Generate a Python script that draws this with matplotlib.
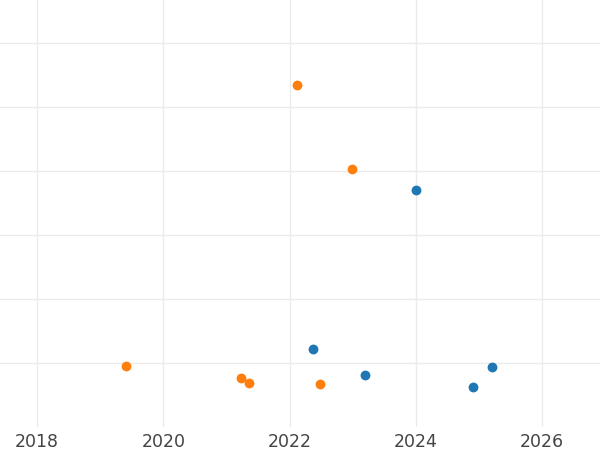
import matplotlib.pyplot as plt

# series (x = year, y = unlabelled value)
blue_x = [2022.37, 2023.20, 2024.00, 2024.91, 2025.21]
blue_y = [1.22, 0.81, 3.70, 0.625, 0.94]
orange_x = [2019.41, 2021.23, 2021.36, 2022.12, 2022.48, 2022.99]
orange_y = [0.953, 0.766, 0.688, 5.34, 0.672, 4.03]

x_ticks = [2018, 2020, 2022, 2024, 2026]
y_ticks = [1, 2, 3, 4, 5, 6]


def main():
    fig = plt.figure(figsize=(6, 4.5), dpi=100)
    ax = fig.add_axes([0, 1 - 427 / 450, 1, 427 / 450])

    ax.scatter(blue_x, blue_y, s=50, color="#1f77b4", zorder=3, linewidths=0)
    ax.scatter(orange_x, orange_y, s=50, color="#ff7f0e", zorder=3, linewidths=0)

    ax.set_xlim(2017.41, 2026.92)
    ax.set_ylim(0, 427 / 64)
    ax.set_xticks(x_ticks)
    ax.set_xticklabels([str(t) for t in x_ticks])
    ax.set_yticks(y_ticks)
    ax.set_yticklabels([])

    ax.grid(True, color="#ebebeb", linewidth=1.0)
    ax.set_axisbelow(True)
    ax.tick_params(length=0, labelsize=12.5, labelcolor="#444444", pad=4)
    for s in ax.spines.values():
        s.set_visible(False)

    fig.savefig("out.png", dpi=100)


if __name__ == '__main__':
    main()
